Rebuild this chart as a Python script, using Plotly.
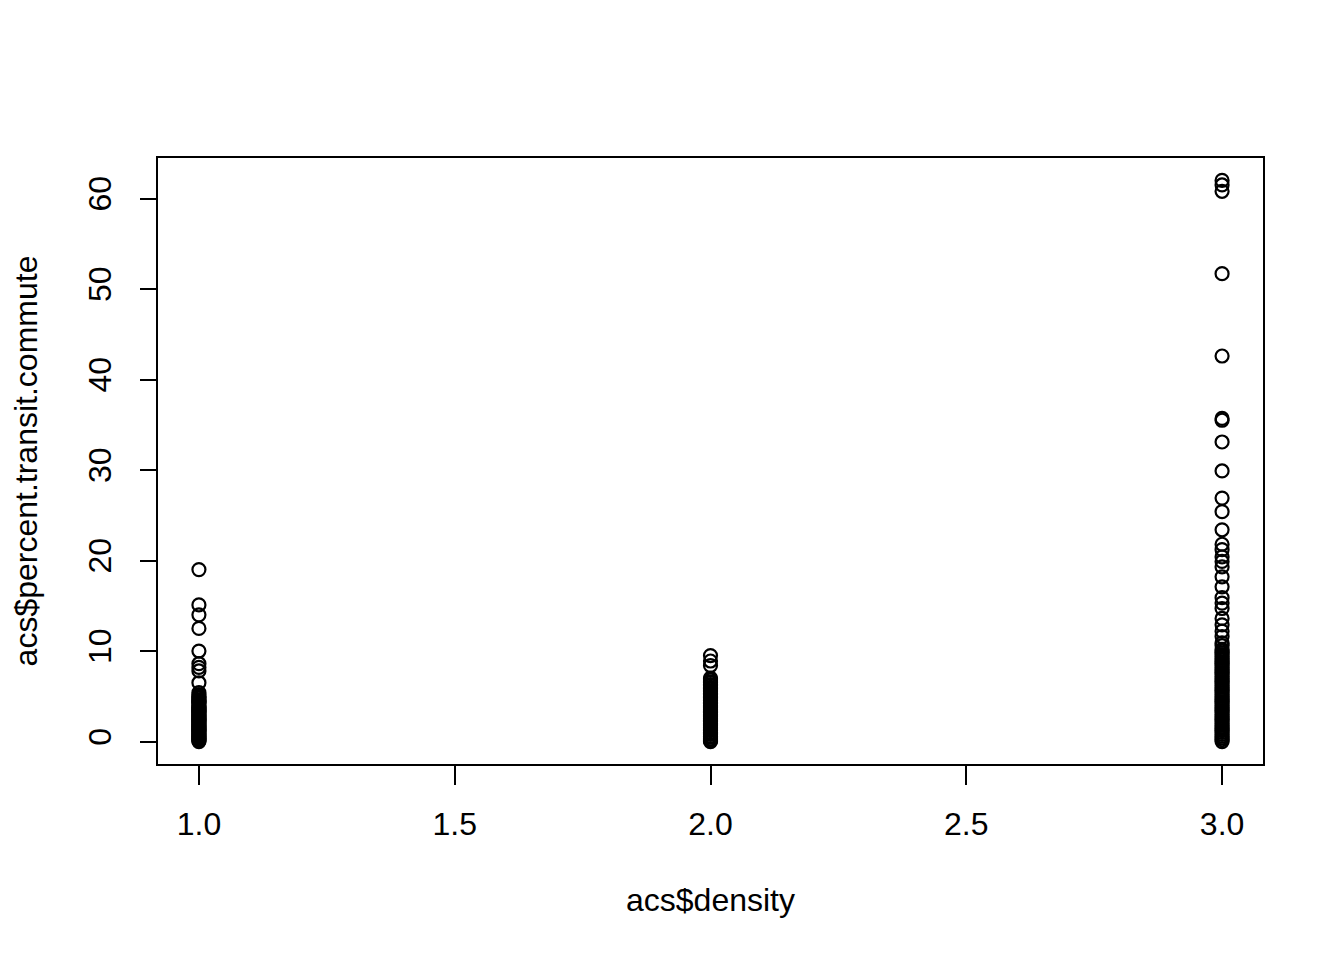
import plotly.graph_objects as go

# density category 1
d1_vals = [19.0, 15.1, 14.0, 12.5, 10.0, 8.6, 8.2, 7.8, 6.5, 5.4, 5.2, 5.0, 4.9, 4.8,
           4.6, 4.5, 4.4, 4.3, 4.2, 4.0, 3.9, 3.8, 3.7, 3.6, 3.5, 3.4, 3.3, 3.2, 3.1,
           3.0, 2.9, 2.8, 2.7, 2.6, 2.5, 2.4, 2.3, 2.2, 2.1, 2.0, 1.9, 1.8, 1.7, 1.6,
           1.5, 1.4, 1.3, 1.2, 1.1, 1.0, 0.9, 0.8, 0.7, 0.6, 0.5, 0.4, 0.3, 0.2, 0.1,
           0.0]
# density category 2
d2_vals = [9.5, 8.9, 8.4, 7.0, 6.9, 6.8, 6.6, 6.5, 6.3, 6.2, 6.0, 5.9, 5.8, 5.6, 5.5,
           5.3, 5.2, 5.0, 4.9, 4.8, 4.6, 4.5, 4.3, 4.2, 4.0, 3.9, 3.8, 3.6, 3.5, 3.3,
           3.2, 3.0, 2.9, 2.8, 2.6, 2.5, 2.3, 2.2, 2.0, 1.9, 1.8, 1.6, 1.5, 1.3, 1.2,
           1.0, 0.9, 0.8, 0.6, 0.5, 0.3, 0.2, 0.1, 0.0]
# density category 3
d3_vals = [62.0, 61.5, 60.8, 51.7, 42.6, 35.7, 35.5, 33.1, 29.9, 26.9, 25.4, 23.4,
           21.8, 21.2, 20.4, 19.9, 19.3, 18.2, 17.1, 15.9, 15.3, 14.7, 13.6, 12.9,
           12.2, 11.6, 10.9, 10.6, 10.2, 10.0, 9.8, 9.6, 9.4, 9.2, 9.0, 8.8, 8.6, 8.4,
           8.2, 8.0, 7.8, 7.6, 7.4, 7.2, 7.0, 6.8, 6.6, 6.4, 6.2, 6.0, 5.8, 5.6, 5.4,
           5.2, 5.0, 4.8, 4.6, 4.4, 4.2, 4.0, 3.8, 3.6, 3.4, 3.2, 3.0, 2.8, 2.6, 2.4,
           2.2, 2.0, 1.8, 1.6, 1.4, 1.2, 1.0, 0.8, 0.6, 0.4, 0.2, 0.0]

x_ticks = [1.0, 1.5, 2.0, 2.5, 3.0]
x_labels = ["1.0", "1.5", "2.0", "2.5", "3.0"]
y_ticks = [0, 10, 20, 30, 40, 50, 60]

xs = [1.0] * len(d1_vals) + [2.0] * len(d2_vals) + [3.0] * len(d3_vals)
ys = d1_vals + d2_vals + d3_vals

fig = go.Figure(go.Scatter(
    x=xs, y=ys, mode="markers",
    marker=dict(symbol="circle-open", size=13, color="black", line=dict(width=2.2, color="black")),
    showlegend=False,
))

font = dict(family="Liberation Sans, Arial, sans-serif", size=32, color="black")
fig.update_layout(
    width=1344, height=960,
    margin=dict(l=150, r=89, t=150, b=204, autoexpand=False),
    paper_bgcolor="white", plot_bgcolor="white",
    font=font,
    xaxis=dict(range=[0.92, 3.08], tickvals=x_ticks, ticktext=x_labels,
               automargin=False, ticklabelstandoff=12,
               showgrid=False, zeroline=False, showline=True, mirror=True,
               linecolor="black", linewidth=2, ticks="outside", ticklen=19,
               tickwidth=2, tickcolor="black",
               title=dict(text="acs$density", standoff=47, font=font)),
    yaxis=dict(range=[-2.48, 64.48], tickvals=y_ticks, tickangle=-90,
               automargin=False, ticklabelstandoff=16,
               showgrid=False, zeroline=False, showline=True, mirror=True,
               linecolor="black", linewidth=2, ticks="outside", ticklen=16,
               tickwidth=2, tickcolor="black",
               title=dict(text="acs$percent.transit.commute", standoff=40, font=font)),
)

fig.write_html("out.html")
